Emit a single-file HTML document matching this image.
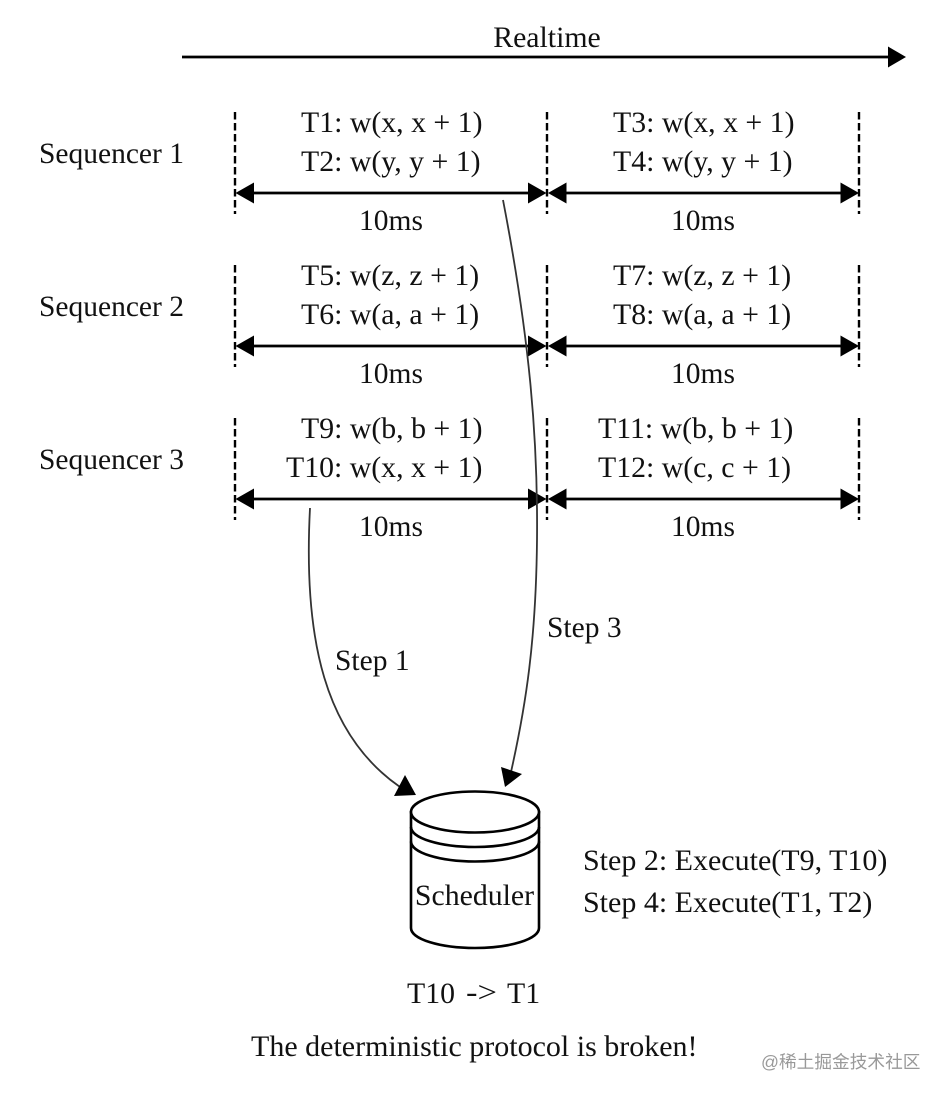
<!DOCTYPE html>
<html><head><meta charset="utf-8"><style>
html,body{margin:0;padding:0;background:#fff;width:950px;height:1100px;overflow:hidden}
svg{display:block}
text{font-family:"Liberation Serif","Noto Serif CJK SC",serif;font-size:29.8px;fill:#111}
.m{text-anchor:middle}
.s{font-size:29.5px}
.w{font-family:"Liberation Sans","Noto Sans CJK SC",sans-serif;font-size:17.7px;fill:#999}
</style></head><body>
<svg width="950" height="1100" viewBox="0 0 950 1100" xmlns="http://www.w3.org/2000/svg">
<defs>
<g id="row">
<path d="M235 112V214M547 112V214M859 112V214" stroke="#000" stroke-width="2.4" stroke-dasharray="7.5 3.5" fill="none"/>
<path d="M250 193H532M562 193H844" stroke="#000" stroke-width="2.8" fill="none"/>
<path d="M235.5 193L254 182.5V203.5ZM546.5 193L528 182.5V203.5ZM548 193L566.5 182.5V203.5ZM859 193L840.5 182.5V203.5Z" fill="#000"/>
<text class="m s" x="391" y="230">10ms</text>
<text class="m s" x="703" y="230">10ms</text>
</g>
</defs>
<text class="m" x="547" y="47">Realtime</text>
<path d="M182 57H892" stroke="#000" stroke-width="2.8"/>
<path d="M906 57L888 46.5V67.5Z" fill="#000"/>

<use href="#row"/>
<use href="#row" y="153"/>
<use href="#row" y="306"/>

<text class="s" x="39" y="163">Sequencer 1</text>
<text class="s" x="39" y="316">Sequencer 2</text>
<text class="s" x="39" y="469">Sequencer 3</text>

<text x="301" y="132">T1: w(x, x + 1)</text>
<text x="301" y="171">T2: w(y, y + 1)</text>
<text x="613" y="132">T3: w(x, x + 1)</text>
<text x="613" y="171">T4: w(y, y + 1)</text>
<text x="301" y="285">T5: w(z, z + 1)</text>
<text x="301" y="324">T6: w(a, a + 1)</text>
<text x="613" y="285">T7: w(z, z + 1)</text>
<text x="613" y="324">T8: w(a, a + 1)</text>
<text x="301" y="438">T9: w(b, b + 1)</text>
<text x="286" y="477">T10: w(x, x + 1)</text>
<text x="598" y="438">T11: w(b, b + 1)</text>
<text x="598" y="477">T12: w(c, c + 1)</text>

<path d="M310 508C303 640 325 735 400 787" stroke="#333" stroke-width="1.8" fill="none"/>
<path d="M416 795L405 775L394 796Z" fill="#000"/>
<path d="M503 200C530 340 538 440 537 540C536 640 526 705 511 772" stroke="#333" stroke-width="1.8" fill="none"/>
<path d="M505 787L501 767L522 774Z" fill="#000"/>

<text class="s" x="335" y="670">Step 1</text>
<text class="s" x="547" y="637">Step 3</text>

<g stroke="#000" stroke-width="2.6" fill="#fff">
<path d="M411 812V928A64 20 0 0 0 539 928V812Z"/>
<ellipse cx="475" cy="812" rx="64" ry="20.5"/>
<path d="M411 827A64 20 0 0 0 539 827M411 841.5A64 20 0 0 0 539 841.5" fill="none"/>
</g>
<text class="m" x="474.5" y="905">Scheduler</text>

<text x="583" y="870" style="font-size:30px">Step 2: Execute(T9, T10)</text>
<text x="583" y="912" style="font-size:30px">Step 4: Execute(T1, T2)</text>
<text x="407" y="1003">T10</text>
<text x="466" y="1002" textLength="31" lengthAdjust="spacingAndGlyphs">-&gt;</text>
<text x="507" y="1003">T1</text>
<text x="251" y="1056" style="font-size:30px">The deterministic protocol is broken!</text>
<text class="w" x="761" y="1068">@稀土掘金技术社区</text>
</svg>
</body></html>
